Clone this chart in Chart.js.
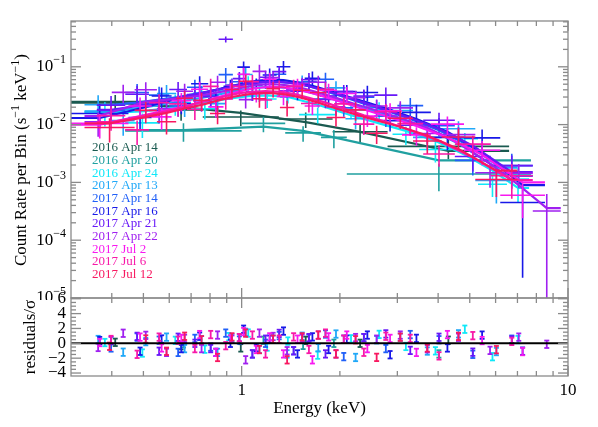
<!DOCTYPE html>
<html>
<head>
<meta charset="utf-8">
<script src="https://cdn.jsdelivr.net/npm/chart.js@4.4.0/dist/chart.umd.min.js"></script>
<style>
    body { margin: 0; background: #ffffff; }
    #contenedor { position: relative; width: 598px; height: 427px; }
    canvas { position: absolute; left: 0; }
</style>
</head>
<body>
<div id="contenedor">
    <canvas id="chartEspectro" width="598" height="300" style="top:0px"></canvas>
    <canvas id="chartResiduos" width="598" height="137" style="top:290px"></canvas>
</div>
<script>
// Observaciones (leyenda) y colores
const nombresObs = ['2016 Apr 14', '2016 Apr 20', '2016 Apr 24', '2017 Apr 13', '2017 Apr 14', '2017 Apr 16',
    '2017 Apr 21', '2017 Apr 22', '2017 Jul 2', '2017 Jul 6', '2017 Jul 12'];
const coloresObs = ['#1a5a50', '#20a0a0', '#10e8f8', '#20a8f8', '#2060f8', '#1818e8',
    '#6818f8', '#a020f0', '#f818f0', '#f818a8', '#f81860'];

// Rejillas de canales de energía (bordes, keV)
const gridA = [0.33, 0.40, 0.47, 0.55, 0.63, 0.71, 0.80, 0.89, 0.98, 1.08, 1.19, 1.31, 1.45, 1.62, 1.82, 2.08, 2.40, 2.80, 3.35, 4.10, 5.20, 7.00];
const gridB = [0.36, 0.44, 0.52, 0.60, 0.68, 0.76, 0.85, 0.94, 1.03, 1.13, 1.24, 1.37, 1.52, 1.70, 1.92, 2.20, 2.55, 3.00, 3.60, 4.50, 5.80, 7.80];
const gridC = [0.30, 0.45, 0.53, 0.61, 0.70, 0.79, 0.88, 0.97, 1.06, 1.16, 1.28, 1.41, 1.56, 1.74, 1.96, 2.25, 2.62, 3.10, 3.80, 4.80, 6.20, 8.50];

// 2016 Apr 14
const bordes1 = [0.30, 0.56, 0.76, 1.30, 1.90, 2.80, 6.60];
const tasa1 = [0.025, 0.018, 0.0135, 0.0125, 0.0075, 0.0042];
const frac1 = [0.30, 0.35, 0.30, 0.30, 0.35, 0.40];
const modelo1 = [0.024, 0.020, 0.016, 0.011, 0.0075, 0.0035];

// 2016 Apr 20
const bordes2 = [0.44, 1.00, 1.36, 1.75, 2.10, 7.70];
const tasa2 = [0.0078, 0.0105, 0.0072, 0.0060, 0.0014];
const frac2 = [0.35, 0.30, 0.30, 0.35, 0.50];
const modelo2 = [0.0080, 0.0092, 0.0078, 0.0060, 0.0024];

// 2016 Apr 24
const bordes3 = [0.33, 0.44, 0.56, 0.70, 0.85, 0.98, 1.12, 1.28, 1.50, 1.95, 2.40, 2.90, 3.50, 4.40, 5.30, 6.50, 7.60];
const tasa3 = [0.0168, 0.0107, 0.0238, 0.0188, 0.0384, 0.053, 0.0278, 0.033, 0.0149, 0.0177, 0.0181, 0.0068, 0.0037, 0.0057, 0.00093, 0.00114];
const frac3 = [0.45, 0.45, 0.4, 0.35, 0.3, 0.3, 0.3, 0.3, 0.3, 0.3, 0.35, 0.35, 0.4, 0.25, 0.4, 0.6];
const modelo3 = [0.016, 0.017, 0.020, 0.024, 0.028, 0.031, 0.032, 0.030, 0.022, 0.0145, 0.0105, 0.0078, 0.0052, 0.0030, 0.0016, 0.0008];

// 2017 Apr 13
const tasa4 = [0.0221, 0.0117, 0.022, 0.0345, 0.0208, 0.0348, 0.0231, 0.0481, 0.0738, 0.0352, 0.054, 0.0301, 0.0546, 0.028, 0.0432, 0.0126, 0.0198, 0.0175, 0.006, 0.0085, 0.00108];
const frac4 = [0.45, 0.45, 0.4, 0.4, 0.35, 0.35, 0.35, 0.3, 0.3, 0.3, 0.3, 0.3, 0.3, 0.3, 0.3, 0.35, 0.35, 0.35, 0.4, 0.35, 0.6];
const modelo4 = [0.017, 0.018, 0.020, 0.023, 0.026, 0.029, 0.033, 0.037, 0.041, 0.044, 0.045, 0.043, 0.039, 0.033, 0.027, 0.021, 0.0165, 0.0125, 0.0085, 0.0047, 0.0018];

// 2017 Apr 14
const tasa5 = [0.0176, 0.036, 0.0324, 0.021, 0.0442, 0.0323, 0.0731, 0.0552, 0.0364, 0.055, 0.0743, 0.0416, 0.0552, 0.0608, 0.0195, 0.0299, 0.014, 0.0213, 0.0096, 0.0024, 0.00195];
const frac5 = [0.4, 0.4, 0.4, 0.35, 0.35, 0.35, 0.3, 0.3, 0.3, 0.25, 0.25, 0.25, 0.25, 0.3, 0.3, 0.3, 0.35, 0.35, 0.35, 0.45, 0.6];
const modelo5 = [0.022, 0.024, 0.027, 0.030, 0.034, 0.038, 0.043, 0.048, 0.052, 0.055, 0.055, 0.052, 0.046, 0.038, 0.030, 0.023, 0.0175, 0.0125, 0.0080, 0.0040, 0.0013];

// 2017 Apr 16
const tasa6 = [0.0156, 0.0133, 0.0312, 0.0232, 0.051, 0.028, 0.046, 0.0988, 0.0485, 0.072, 0.1003, 0.0378, 0.0635, 0.0312, 0.0372, 0.036, 0.0117, 0.0163, 0.006, 0.0059, 0.00045];
const frac6 = [0.45, 0.4, 0.4, 0.35, 0.35, 0.35, 0.3, 0.25, 0.3, 0.3, 0.25, 0.3, 0.3, 0.3, 0.3, 0.3, 0.35, 0.35, 0.4, 0.4, 0.95];
const modelo6 = [0.013, 0.019, 0.024, 0.029, 0.034, 0.040, 0.046, 0.052, 0.057, 0.060, 0.059, 0.054, 0.047, 0.039, 0.031, 0.024, 0.018, 0.0125, 0.0075, 0.0033, 0.0009];

// 2017 Apr 21
const tasa7 = [0.0216, 0.0336, 0.0175, 0.0406, 0.033, 0.0304, 0.30, 0.0624, 0.0364, 0.066, 0.0825, 0.0416, 0.0598, 0.0273, 0.0372, 0.0312, 0.0324, 0.00975, 0.0119, 0.0028, 0.00195];
const frac7 = [0.45, 0.4, 0.4, 0.35, 0.35, 0.35, 0.12, 0.3, 0.3, 0.3, 0.25, 0.25, 0.3, 0.3, 0.3, 0.3, 0.35, 0.35, 0.35, 0.45, 0.5];
const modelo7 = [0.018, 0.021, 0.025, 0.029, 0.033, 0.038, 0.043, 0.048, 0.052, 0.055, 0.055, 0.052, 0.046, 0.039, 0.031, 0.024, 0.018, 0.013, 0.0085, 0.0043, 0.0015];

// 2017 Apr 22
const bordes8 = [0.33, 0.40, 0.47, 0.55, 0.63, 0.71, 0.80, 0.89, 0.98, 1.08, 1.19, 1.31, 1.45, 1.62, 1.82, 2.08, 2.40, 2.80, 3.35, 4.10, 5.20, 6.40, 7.80, 9.50];
const tasa8 = [0.0112, 0.0361, 0.04, 0.0189, 0.0377, 0.0256, 0.054, 0.048, 0.027, 0.0833, 0.065, 0.0384, 0.0516, 0.054, 0.0203, 0.0293, 0.021, 0.0195, 0.007, 0.0067, 0.00147, 0.00144, 0.00032];
const frac8 = [0.45, 0.35, 0.35, 0.35, 0.35, 0.35, 0.3, 0.3, 0.3, 0.3, 0.25, 0.25, 0.25, 0.3, 0.3, 0.3, 0.3, 0.3, 0.35, 0.35, 0.45, 0.45, 0.97];
const modelo8 = [0.014, 0.019, 0.025, 0.027, 0.029, 0.032, 0.036, 0.040, 0.045, 0.049, 0.050, 0.048, 0.043, 0.036, 0.029, 0.0225, 0.0175, 0.013, 0.0088, 0.0048, 0.0021, 0.0009, 0.00036];

// 2017 Jul 2
const tasa9 = [0.0105, 0.021, 0.0136, 0.026, 0.0408, 0.0203, 0.0408, 0.0741, 0.0344, 0.0608, 0.0308, 0.048, 0.021, 0.0392, 0.0345, 0.014, 0.0173, 0.00665, 0.0102, 0.0036, 0.0006];
const frac9 = [0.45, 0.4, 0.4, 0.35, 0.35, 0.35, 0.3, 0.3, 0.3, 0.3, 0.3, 0.3, 0.3, 0.3, 0.3, 0.35, 0.35, 0.35, 0.35, 0.45, 0.6];
const modelo9 = [0.0100, 0.014, 0.017, 0.020, 0.024, 0.029, 0.034, 0.039, 0.043, 0.045, 0.044, 0.040, 0.035, 0.029, 0.023, 0.0175, 0.0133, 0.0095, 0.0060, 0.0030, 0.0010];

// 2017 Jul 6
const tasa10 = [0.0143, 0.0081, 0.024, 0.0228, 0.0184, 0.0459, 0.0279, 0.0455, 0.0555, 0.0266, 0.0444, 0.0459, 0.0232, 0.0408, 0.0228, 0.0102, 0.0168, 0.0104, 0.0031, 0.0046, 0.0013];
const frac10 = [0.45, 0.45, 0.4, 0.4, 0.35, 0.35, 0.35, 0.3, 0.3, 0.3, 0.3, 0.3, 0.3, 0.3, 0.3, 0.35, 0.35, 0.35, 0.4, 0.4, 0.6];
const modelo10 = [0.011, 0.0135, 0.016, 0.019, 0.023, 0.027, 0.031, 0.035, 0.037, 0.038, 0.037, 0.034, 0.029, 0.024, 0.019, 0.0145, 0.0112, 0.0080, 0.0052, 0.0027, 0.0011];

// 2017 Jul 12
const bordes11 = [0.33, 0.47, 0.55, 0.63, 0.71, 0.80, 0.89, 0.98, 1.08, 1.19, 1.31, 1.45, 1.62, 1.82, 2.08, 2.40, 2.80, 3.35, 4.10, 5.20, 7.00];
const tasa11 = [0.0089, 0.0176, 0.0112, 0.0285, 0.0264, 0.0156, 0.0405, 0.0561, 0.028, 0.042, 0.0198, 0.0392, 0.036, 0.0133, 0.018, 0.0071, 0.0129, 0.0052, 0.0061, 0.00112];
const frac11 = [0.45, 0.4, 0.4, 0.35, 0.35, 0.35, 0.3, 0.3, 0.3, 0.3, 0.3, 0.3, 0.3, 0.3, 0.35, 0.35, 0.35, 0.4, 0.4, 0.5];
const modelo11 = [0.0105, 0.0135, 0.016, 0.019, 0.022, 0.026, 0.030, 0.033, 0.035, 0.035, 0.033, 0.029, 0.024, 0.019, 0.0150, 0.0118, 0.0092, 0.0065, 0.0038, 0.0016];

// Media altura de las barras de residuos (en sigma)
const errorResiduo = 0.5;

// Ejes
const energiaMin = 0.3, energiaMax = 10;
const tasaMin = 1e-5, tasaMax = 0.62;
const residuoMin = -4.4, residuoMax = 6.1;
const ticksResiduo = [6, 4, 2, 0, -2, -4];

const series = [
    { bordes: bordes1, tasa: tasa1, frac: frac1, modelo: modelo1 },
    { bordes: bordes2, tasa: tasa2, frac: frac2, modelo: modelo2 },
    { bordes: bordes3, tasa: tasa3, frac: frac3, modelo: modelo3 },
    { bordes: gridA, tasa: tasa4, frac: frac4, modelo: modelo4 },
    { bordes: gridB, tasa: tasa5, frac: frac5, modelo: modelo5 },
    { bordes: gridC, tasa: tasa6, frac: frac6, modelo: modelo6 },
    { bordes: gridB, tasa: tasa7, frac: frac7, modelo: modelo7 },
    { bordes: bordes8, tasa: tasa8, frac: frac8, modelo: modelo8 },
    { bordes: gridC, tasa: tasa9, frac: frac9, modelo: modelo9 },
    { bordes: gridB, tasa: tasa10, frac: frac10, modelo: modelo10 },
    { bordes: bordes11, tasa: tasa11, frac: frac11, modelo: modelo11 }
];

const fuente = "'Liberation Serif', 'Times New Roman', serif";
const colorMarco = '#8a8a8a';

function centros(bordes, n) {
    const c = [];
    for (let i = 0; i < n; i++) c.push(Math.sqrt(bordes[i] * bordes[i + 1]));
    return c;
}

// Cruces: barra horizontal (ancho del canal) y vertical (error)
function datosCruces(s) {
    const c = centros(s.bordes, s.tasa.length);
    const pts = [];
    s.tasa.forEach((r, i) => {
        pts.push({ x: s.bordes[i], y: r }, { x: s.bordes[i + 1], y: r }, { x: c[i], y: null });
        pts.push({ x: c[i], y: r * (1 + s.frac[i]) }, { x: c[i], y: r * (1 - s.frac[i]) }, { x: c[i], y: null });
    });
    return pts;
}

function datosModelo(s) {
    const n = s.modelo.length;
    const c = centros(s.bordes, n);
    const pts = [{ x: s.bordes[0], y: s.modelo[0] }];
    c.forEach((e, i) => pts.push({ x: e, y: s.modelo[i] }));
    pts.push({ x: s.bordes[n], y: s.modelo[n - 1] });
    return pts;
}

function residuos(s) {
    return s.tasa.map((r, i) => (r - s.modelo[i]) / (s.frac[i] * r));
}

function datosBarrasResiduo(s) {
    const c = centros(s.bordes, s.tasa.length);
    const pts = [];
    residuos(s).forEach((z, i) => {
        pts.push({ x: c[i], y: z - errorResiduo }, { x: c[i], y: z + errorResiduo }, { x: c[i], y: null });
    });
    return pts;
}

function datosTapas(s) {
    const c = centros(s.bordes, s.tasa.length);
    const pts = [];
    residuos(s).forEach((z, i) => {
        pts.push({ x: c[i], y: z - errorResiduo }, { x: c[i], y: z + errorResiduo });
    });
    return pts;
}

// Marcas del eje x (menores y mayores)
const ticksXMenores = [0.4, 0.5, 0.6, 0.7, 0.8, 0.9, 2, 3, 4, 5, 6, 7, 8, 9];
const ticksXMayores = [1, 10];

function linea(ctx, x1, y1, x2, y2) {
    ctx.beginPath();
    ctx.moveTo(x1, y1);
    ctx.lineTo(x2, y2);
    ctx.stroke();
}

function marcoYTicksX(chart) {
    const { ctx, chartArea: a, scales: { x } } = chart;
    ctx.strokeStyle = colorMarco;
    ctx.lineWidth = 1.3;
    ctx.strokeRect(a.left, a.top, a.right - a.left, a.bottom - a.top);
    ticksXMenores.concat(ticksXMayores).forEach(v => {
        const px = x.getPixelForValue(v);
        const l = ticksXMayores.includes(v) ? 10 : 5;
        linea(ctx, px, a.top, px, a.top + l);
        linea(ctx, px, a.bottom, px, a.bottom - l);
    });
}

// Texto con superíndices: partes [texto, esSuperindice]
function textoConSup(ctx, partes, x, y, tam) {
    let pos = x;
    partes.forEach(([t, sup]) => {
        ctx.font = (sup ? Math.round(tam * 0.68) : tam) + 'px ' + fuente;
        ctx.fillText(t, pos, sup ? y - tam * 0.38 : y);
        pos += ctx.measureText(t).width;
    });
    return pos - x;
}

function anchoConSup(ctx, partes, tam) {
    let w = 0;
    partes.forEach(([t, sup]) => {
        ctx.font = (sup ? Math.round(tam * 0.68) : tam) + 'px ' + fuente;
        w += ctx.measureText(t).width;
    });
    return w;
}

const marcoEspectro = {
    id: 'marcoEspectro',
    afterDraw(chart) {
        const { ctx, chartArea: a, scales: { y } } = chart;
        ctx.save();
        marcoYTicksX(chart);

        // marcas del eje y logarítmico
        for (let k = -5; k <= -1; k++) {
            for (let m = 1; m <= 9; m++) {
                const v = m * Math.pow(10, k);
                if (v > tasaMax) break;
                const py = y.getPixelForValue(v);
                const l = m === 1 ? 10 : 5;
                linea(ctx, a.left, py, a.left + l, py);
                linea(ctx, a.right, py, a.right - l, py);
            }
        }

        // etiquetas 10^k
        ctx.fillStyle = '#000';
        ctx.textBaseline = 'middle';
        ctx.textAlign = 'left';
        for (let k = -5; k <= -1; k++) {
            const py = y.getPixelForValue(Math.pow(10, k));
            const partes = [['10', false], ['\u2212' + (-k), true]];
            const w = anchoConSup(ctx, partes, 17);
            textoConSup(ctx, partes, 66 - w, py, 17);
        }

        // título del eje y
        ctx.save();
        ctx.translate(22, 160);
        ctx.rotate(-Math.PI / 2);
        const titulo = [['Count Rate per Bin (s', false], ['\u22121', true], [' keV', false], ['\u22121', true], [')', false]];
        const wt = anchoConSup(ctx, titulo, 17);
        textoConSup(ctx, titulo, -wt / 2, 0, 17);
        ctx.restore();

        // leyenda
        ctx.font = '13px ' + fuente;
        nombresObs.forEach((n, i) => {
            ctx.fillStyle = coloresObs[i];
            ctx.fillText(n, 92, 148 + i * 12.67);
        });
        ctx.restore();
    }
};

const marcoResiduos = {
    id: 'marcoResiduos',
    afterDatasetsDraw(chart) {
        const { ctx, chartArea: a, scales: { y } } = chart;
        ctx.save();
        ctx.strokeStyle = '#000';
        ctx.lineWidth = 2;
        const p0 = y.getPixelForValue(0);
        linea(ctx, a.left, p0, a.right, p0);
        ctx.restore();
    },
    afterDraw(chart) {
        const { ctx, chartArea: a, scales: { x, y } } = chart;
        ctx.save();
        marcoYTicksX(chart);
        for (let v = -4; v <= 6; v += 0.5) {
            const py = y.getPixelForValue(v);
            const l = v % 2 === 0 ? 10 : 5;
            linea(ctx, a.left, py, a.left + l, py);
            linea(ctx, a.right, py, a.right - l, py);
        }
        ctx.fillStyle = '#000';
        ctx.font = '17px ' + fuente;
        ctx.textBaseline = 'middle';
        ctx.textAlign = 'right';
        ticksResiduo.forEach(v => {
            const t = v < 0 ? '\u2212' + (-v) : String(v);
            ctx.fillText(t, 66, y.getPixelForValue(v));
        });
        ctx.textAlign = 'center';
        ticksXMayores.forEach(v => {
            ctx.fillText(String(v), x.getPixelForValue(v), a.bottom + 15);
        });
        ctx.fillText('Energy (keV)', (a.left + a.right) / 2, a.bottom + 33);

        ctx.save();
        ctx.translate(31, (a.top + a.bottom) / 2);
        ctx.rotate(-Math.PI / 2);
        ctx.fillText('residuals/\u03c3', 0, 0);
        ctx.restore();
        ctx.restore();
    }
};

// Construir datasets
const datasetsEspectro = [];
const datasetsResiduos = [];
series.forEach((s, i) => {
    const color = coloresObs[i];
    const nivel = (series.length - i) * 2;
    datasetsEspectro.push({
        data: datosModelo(s), showLine: true, borderColor: color, borderWidth: 2.2,
        pointRadius: 0, order: nivel - 1
    });
    datasetsEspectro.push({
        data: datosCruces(s), showLine: true, borderColor: color, borderWidth: 1.6,
        pointRadius: 0, spanGaps: false, order: nivel
    });
    datasetsResiduos.push({
        data: datosBarrasResiduo(s), showLine: true, borderColor: color, borderWidth: 1.8,
        pointRadius: 0, spanGaps: false, order: nivel
    });
    datasetsResiduos.push({
        data: datosTapas(s), showLine: false, borderColor: color, borderWidth: 1.8,
        pointStyle: 'line', pointRadius: 2.5, order: nivel - 1
    });
});

const opcionesComunes = {
    responsive: false,
    animation: false,
    events: [],
    plugins: { legend: { display: false }, tooltip: { enabled: false } }
};

new Chart(document.getElementById('chartEspectro').getContext('2d'), {
    type: 'scatter',
    data: { datasets: datasetsEspectro },
    options: {
        ...opcionesComunes,
        layout: { padding: { top: 21, left: 71, right: 30, bottom: 2 } },
        scales: {
            x: { type: 'logarithmic', min: energiaMin, max: energiaMax, display: false },
            y: { type: 'logarithmic', min: tasaMin, max: tasaMax, display: false }
        }
    },
    plugins: [marcoEspectro]
});

new Chart(document.getElementById('chartResiduos').getContext('2d'), {
    type: 'scatter',
    data: { datasets: datasetsResiduos },
    options: {
        ...opcionesComunes,
        layout: { padding: { top: 8, left: 71, right: 30, bottom: 51 } },
        scales: {
            x: { type: 'logarithmic', min: energiaMin, max: energiaMax, display: false },
            y: { type: 'linear', min: residuoMin, max: residuoMax, display: false }
        }
    },
    plugins: [marcoResiduos]
});
</script>
</body>
</html>
